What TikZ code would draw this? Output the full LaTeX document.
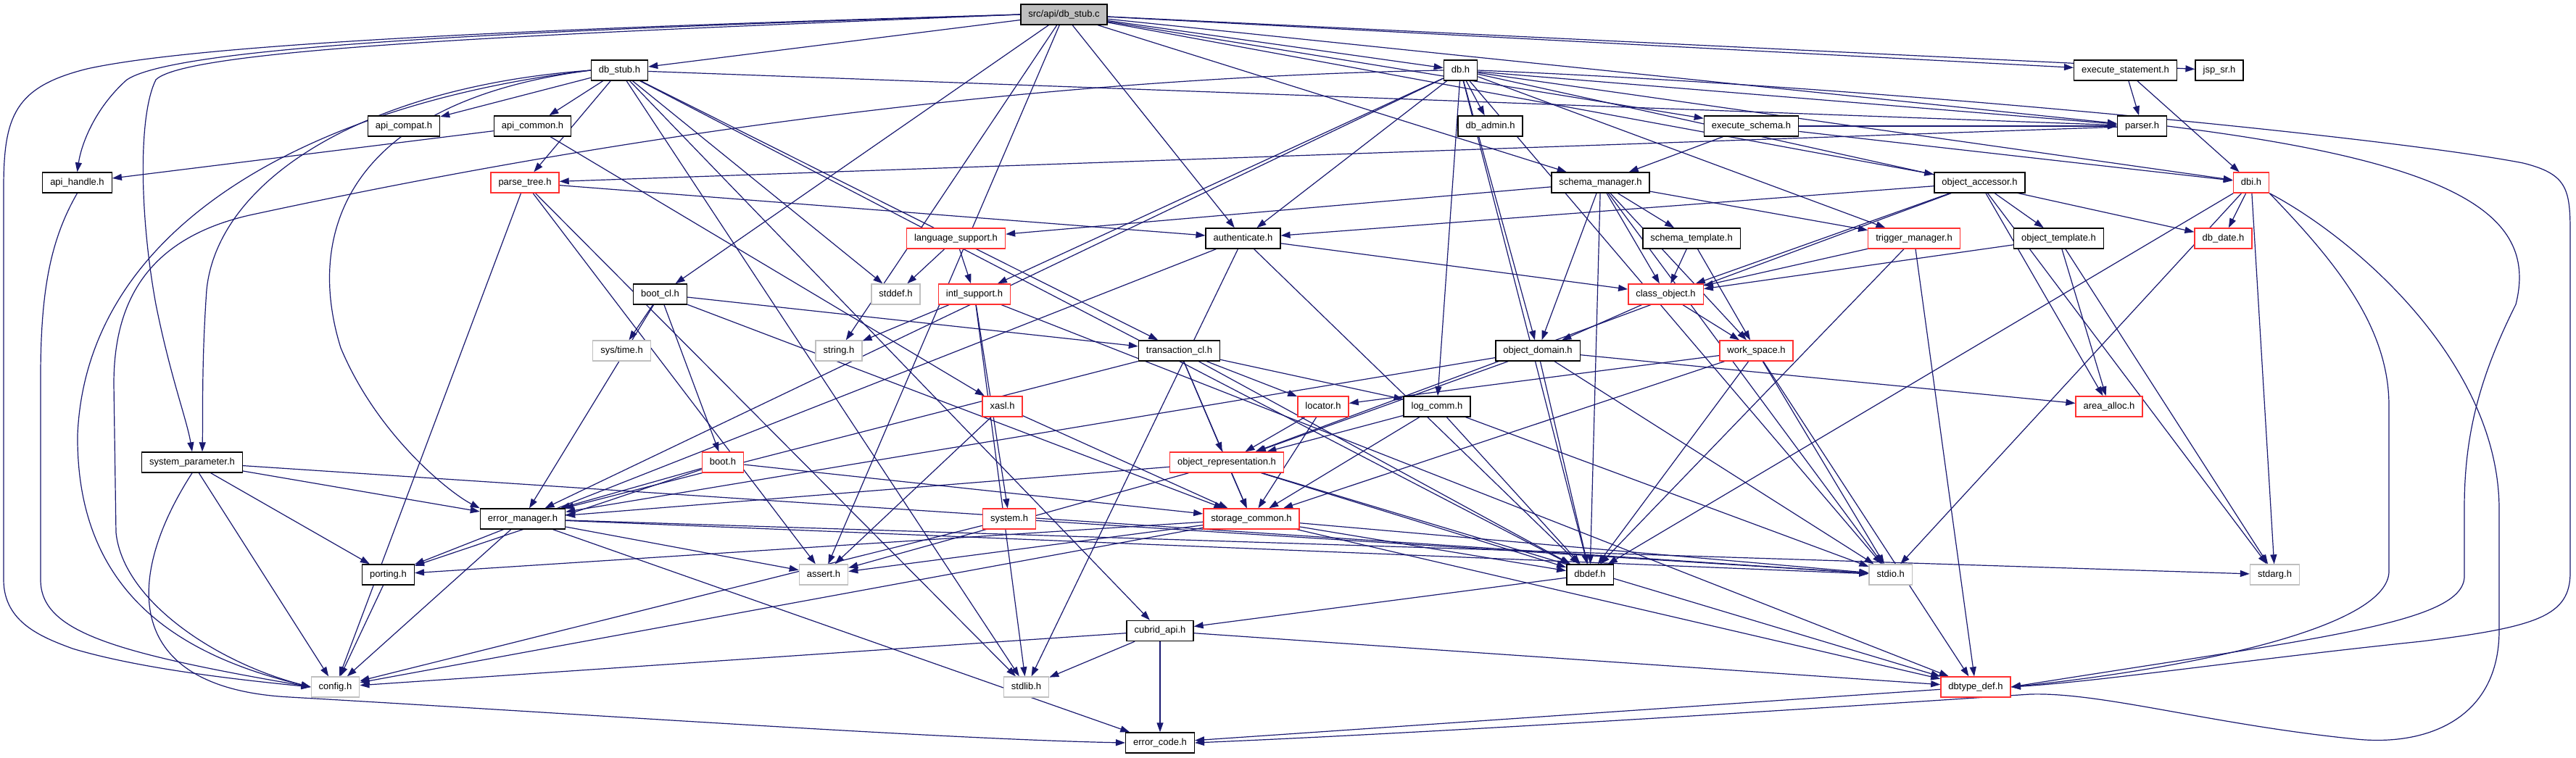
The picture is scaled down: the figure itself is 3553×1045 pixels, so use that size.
\documentclass[tikz,border=0pt]{standalone}
\usepackage{fontspec}
\setmainfont{Liberation Sans}
\usetikzlibrary{arrows.meta}
\definecolor{edgec}{HTML}{191970}
\definecolor{doxred}{HTML}{FF3030}
\definecolor{doxgray}{HTML}{BFBFBF}
\definecolor{srcfill}{HTML}{BFBFBF}
\pgfdeclarelayer{bg}
\pgfsetlayers{bg,main}
\begin{document}
\begin{tikzpicture}[x=1pt,y=-1pt,
  box/.style={rectangle, draw, line width=1.4pt, minimum height=28pt, inner xsep=10.5pt, inner ysep=0pt,
    fill=white, font=\fontsize{13}{15}\selectfont, text height=9.5pt, text depth=3pt},
  bk/.style={box, draw=black},
  rd/.style={box, draw=doxred},
  gy/.style={box, draw=doxgray},
  e/.style={draw=edgec, line width=1.2pt, -{Triangle[length=13pt,width=9pt]}}]
\useasboundingbox (0,0) rectangle (3553,1045);
% row 0
\node[bk, fill=srcfill] (src) at (1467.5,20) {src/api/db\_stub.c};
% row 1
\node[bk] (dbstubh) at (854.5,97) {db\_stub.h};
\node[bk] (dbh) at (2014.5,97) {db.h};
\node[bk] (execstmt) at (2931.5,97) {execute\_statement.h};
\node[bk] (jsp) at (3061,97) {jsp\_sr.h};
% row 2
\node[bk] (apicompat) at (557,174) {api\_compat.h};
\node[bk] (apicommon) at (734.5,174) {api\_common.h};
\node[bk] (dbadmin) at (2055.5,174) {db\_admin.h};
\node[bk] (execschema) at (2415.5,174) {execute\_schema.h};
\node[bk] (parser) at (2954.5,174) {parser.h};
% row 3
\node[bk] (apihandle) at (106.5,252) {api\_handle.h};
\node[rd] (parsetree) at (724,252) {parse\_tree.h};
\node[bk] (schemamgr) at (2207.5,252) {schema\_manager.h};
\node[bk] (objacc) at (2730.5,252) {object\_accessor.h};
\node[rd] (dbi) at (3105,252) {dbi.h};
% row 4
\node[rd] (langsup) at (1318.5,329) {language\_support.h};
\node[bk] (auth) at (1714.5,329) {authenticate.h};
\node[bk] (schematpl) at (2333,329) {schema\_template.h};
\node[rd] (trigmgr) at (2640,329) {trigger\_manager.h};
\node[bk] (objtpl) at (2839.5,329) {object\_template.h};
\node[rd] (dbdate) at (3066.5,329) {db\_date.h};
% row 5
\node[bk] (bootcl) at (910.5,406) {boot\_cl.h};
\node[gy] (stddef) at (1235.5,406) {stddef.h};
\node[rd] (intl) at (1344,406) {intl\_support.h};
\node[rd] (classobj) at (2297.5,406) {class\_object.h};
% row 6
\node[gy] (systime) at (857.5,484) {sys/time.h};
\node[gy] (string) at (1157,484) {string.h};
\node[bk] (trancl) at (1626.5,484) {transaction\_cl.h};
\node[bk] (objdomain) at (2121,484) {object\_domain.h};
\node[rd] (workspace) at (2422.5,484) {work\_space.h};
% row 7
\node[rd] (xasl) at (1382.5,561) {xasl.h};
\node[rd] (locator) at (1825,561) {locator.h};
\node[bk] (logcomm) at (1982,561) {log\_comm.h};
\node[rd] (areaalloc) at (2909,561) {area\_alloc.h};
% row 8
\node[bk] (sysparam) at (265,638) {system\_parameter.h};
\node[rd] (boot) at (997,638) {boot.h};
\node[rd] (objrep) at (1692,638) {object\_representation.h};
% row 9
\node[bk] (errmgr) at (721,716) {error\_manager.h};
\node[rd] (system) at (1392,716) {system.h};
\node[rd] (storage) at (1726,716) {storage\_common.h};
% row 10
\node[bk] (porting) at (535.5,793) {porting.h};
\node[gy] (assert) at (1136,793) {assert.h};
\node[bk] (dbdef) at (2193,793) {dbdef.h};
\node[gy] (stdio) at (2607.7,793) {stdio.h};
\node[gy] (stdarg) at (3137.5,793) {stdarg.h};
% row 11
\node[bk] (cubridapi) at (1600,870.5) {cubrid\_api.h};
% row 12
\node[gy] (config) at (462.5,948) {config.h};
\node[gy] (stdlib) at (1415.5,948) {stdlib.h};
\node[rd] (dbtypedef) at (2725,948) {dbtype\_def.h};
% row 13
\node[bk] (errcode) at (1600,1025) {error\_code.h};

\begin{pgfonlayer}{bg}
\fill[white] (0,0) rectangle (3553,1045);
\foreach \a/\b in {src/dbstubh, src/assert, src/bootcl, src/string, src/auth, src/dbh, src/schemamgr,
  src/execschema, src/objacc, src/execstmt, src/jsp, src/parser,
  dbstubh/apicompat, dbstubh/apicommon, dbstubh/parsetree, dbstubh/stddef, dbstubh/trancl, dbstubh/stdlib,
  dbstubh/parser, dbstubh/dbdef, dbstubh/cubridapi,
  apicommon/apihandle, apicommon/xasl,
  dbh/dbadmin, dbh/trigmgr, dbh/objdomain, dbh/auth, dbh/intl, dbh/errmgr, dbh/logcomm, dbh/dbdef,
  dbh/parser, dbh/dbi, dbh/dbdate, dbh/stdio,
  execstmt/parser, execstmt/dbi,
  execschema/schemamgr, execschema/parser, execschema/dbi,
  parser/parsetree,
  parsetree/config, parsetree/stdlib, parsetree/assert, parsetree/auth,
  objacc/objtpl, objacc/classobj, objacc/auth, objacc/areaalloc, objacc/stdarg, objacc/objrep,
  objtpl/classobj, objtpl/areaalloc, objtpl/stdarg,
  schemamgr/langsup, schemamgr/schematpl, schemamgr/trigmgr, schemamgr/classobj, schemamgr/objdomain,
  schemamgr/workspace, schemamgr/dbdef, schemamgr/stdio,
  schematpl/classobj, schematpl/workspace,
  trigmgr/classobj, trigmgr/dbdef, trigmgr/dbtypedef,
  classobj/objdomain, classobj/workspace,
  objdomain/areaalloc, objdomain/stdio, objdomain/dbdef, objdomain/objrep, objdomain/errmgr,
  workspace/locator, workspace/storage, workspace/dbdef, workspace/stdio, workspace/dbtypedef,
  auth/classobj, auth/porting, auth/stdlib, auth/dbdef,
  langsup/stddef, langsup/intl,
  intl/string, intl/stdlib, intl/system, intl/dbtypedef,
  bootcl/systime, bootcl/trancl, bootcl/errmgr, bootcl/boot, bootcl/storage,
  trancl/locator, trancl/logcomm, trancl/errmgr, trancl/storage, trancl/dbdef, trancl/objrep,
  dbi/dbdate, dbi/stdarg, dbi/stdio, dbi/dbdef,
  xasl/assert, xasl/storage,
  locator/objrep, locator/storage,
  logcomm/objrep, logcomm/storage, logcomm/dbdef, logcomm/stdio,
  boot/storage, boot/errmgr, boot/porting,
  objrep/storage, objrep/assert, objrep/errmgr, objrep/dbdef, objrep/dbtypedef,
  system/config, system/stdio,
  storage/dbdef, storage/stdio, storage/config, storage/assert, storage/porting, storage/dbtypedef,
  errmgr/config, errmgr/errcode, errmgr/stdarg, errmgr/assert, errmgr/stdio,
  sysparam/errmgr, sysparam/porting, sysparam/config, sysparam/stdio,
  porting/config,
  cubridapi/config, cubridapi/stdlib, cubridapi/errcode, cubridapi/dbtypedef,
  dbdef/cubridapi,
  dbtypedef/errcode}
  {\draw[e] (\a) -- (\b);}

% curved connectors
\draw[e] (src.west) .. controls (900,35) and (300,55) .. (120,95) .. controls (20,120) and (5,160) .. (5,260)
  -- (5,800) .. controls (5,860) and (60,880) .. (100,895) .. controls (200,925) and (350,940) .. (config.west);
\draw[e] (src.west) .. controls (800,40) and (250,60) .. (175,110) .. controls (130,150) and (112,200) .. (apihandle.north);
\draw[e] (src.west) .. controls (800,45) and (260,65) .. (215,110) .. controls (190,160) and (193,300) .. (215,420)
  .. controls (235,520) and (258,580) .. (sysparam.north);
\draw[e] (dbstubh.west) .. controls (450,140) and (120,300) .. (107,600) .. controls (105,820) and (250,905) .. (config.west);
\draw[e] (dbstubh.west) .. controls (500,120) and (300,250) .. (285,400) .. controls (278,500) and (280,570) .. ([xshift=14pt]sysparam.north);
\draw[e] (dbstubh.west) .. controls (480,140) and (420,320) .. (470,480) .. controls (520,600) and (620,680) .. (errmgr.north west);
\draw[e] (apihandle.south) .. controls (70,330) and (56,400) .. (56,520) -- (56,800) .. controls (56,870) and (150,900) .. (config.west);
\draw[e] (dbh.west) .. controls (1300,110) and (700,220) .. (344,297) .. controls (200,330) and (157,420) .. (157,530)
  -- (160,735) .. controls (170,830) and (300,915) .. (config.west);
\draw[e] (sysparam.south) .. controls (170,800) and (170,950) .. (400,962) .. controls (800,985) and (1300,1020) .. (errcode.west);
\draw[e] (dbh.east) .. controls (2600,120) and (3300,190) .. (3480,225) .. controls (3540,240) and (3545,260) .. (3545,320)
  -- (3545,790) .. controls (3545,850) and (3500,865) .. (3340,885) .. controls (3100,910) and (2900,940) .. (dbtypedef.east);
\draw[e] (parser.east) .. controls (3400,225) and (3500,300) .. (3470,420) .. controls (3420,520) and (3399,600) .. (3399,700)
  -- (3399,795) .. controls (3399,860) and (3200,880) .. (dbtypedef.east);
\draw[e] (dbi.south east) .. controls (3220,360) and (3295,450) .. (3295,560) -- (3295,790)
  .. controls (3290,870) and (3000,925) .. (dbtypedef.east);
\draw[e] (dbi.south east) .. controls (3250,330) and (3445,500) .. (3447,700) -- (3447,870)
  .. controls (3447,990) and (3350,1030) .. (3250,1020) .. controls (3050,1000) and (2900,955) .. (2800,958)
  .. controls (2500,978) and (2000,1010) .. (errcode.east);
\end{pgfonlayer}
\end{tikzpicture}
\end{document}
